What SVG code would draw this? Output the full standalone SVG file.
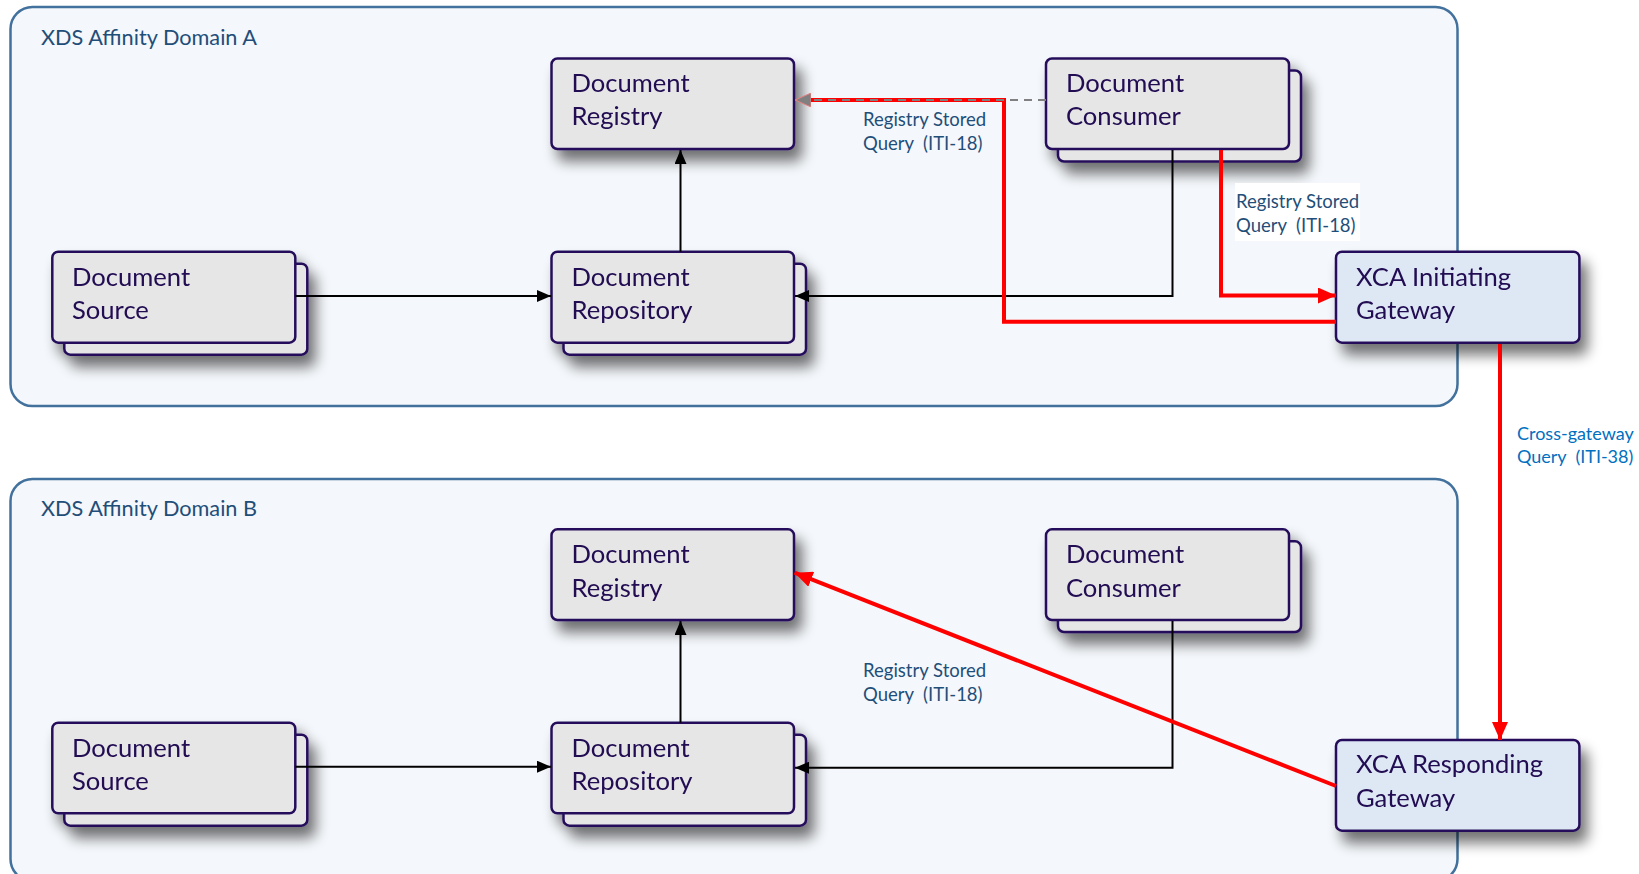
<svg xmlns="http://www.w3.org/2000/svg" width="1639" height="874" viewBox="0 0 1639 874">
<defs>
<filter id="sh" x="-20%" y="-20%" width="150%" height="170%">
<feGaussianBlur in="SourceAlpha" stdDeviation="7"/>
<feOffset dx="7" dy="11" result="b"/>
<feComponentTransfer><feFuncA type="linear" slope="0.55"/></feComponentTransfer>
<feMerge><feMergeNode/><feMergeNode in="SourceGraphic"/></feMerge>
</filter>
<marker id="ab" viewBox="0 0 14 12" refX="14" refY="6" markerWidth="14" markerHeight="12" markerUnits="userSpaceOnUse" orient="auto"><path d="M0,0 L14,6 L0,12 z" fill="#000"/></marker>
<marker id="ar" viewBox="0 0 18 16" refX="18" refY="8" markerWidth="18" markerHeight="16" markerUnits="userSpaceOnUse" orient="auto"><path d="M0,0 L18,8 L0,16 z" fill="#FF0000"/></marker>
<marker id="ag" viewBox="0 0 16 14" refX="16" refY="7" markerWidth="16" markerHeight="14" markerUnits="userSpaceOnUse" orient="auto"><path d="M0,0 L16,7 L0,14 z" fill="#808080" stroke="#E88080" stroke-width="1"/></marker>
</defs>
<style>
.dom{fill:#F4F7FB;stroke:#41719C;stroke-width:2.5}
.dl{font-family:Lato,"Liberation Sans",sans-serif;font-size:21.7px;fill:#1F4E79}
.box{fill:#E6E6E6;stroke:#260F5C;stroke-width:2.5}
.gw{fill:#DEE8F4;stroke:#260F5C;stroke-width:2.5}
.nt{font-family:Lato,"Liberation Sans",sans-serif;font-size:25.6px;fill:#200A52}
.lb{font-family:Lato,"Liberation Sans",sans-serif;font-size:18.5px;fill:#1F4E79}
.lc{font-family:Lato,"Liberation Sans",sans-serif;font-size:18px;fill:#0070C0}
.bk{fill:none;stroke:#000;stroke-width:2}
.rd{fill:none;stroke:#FF0000;stroke-width:4}
.gd{fill:none;stroke:#808080;stroke-width:2;stroke-dasharray:8,6}
</style>
<g id="domainA"><rect class="dom" x="10.5" y="7" width="1447" height="399" rx="22"/><text class="dl" x="41" y="45">XDS Affinity Domain A</text></g>
<g id="domainB"><rect class="dom" x="10.5" y="479" width="1447" height="402" rx="22"/><text class="dl" x="41" y="516">XDS Affinity Domain B</text></g>

<g id="registryA" filter="url(#sh)"><rect class="box" x="551.5" y="58.5" width="242.5" height="90.5" rx="6"/><text class="nt" x="571.5" y="92">Document</text><text class="nt" x="571.5" y="125">Registry</text></g>
<g id="consumerA" filter="url(#sh)"><rect class="box" x="1058" y="70.5" width="243" height="91" rx="6"/><rect class="box" x="1046" y="58.5" width="243" height="90.5" rx="6"/><text class="nt" x="1066" y="92">Document</text><text class="nt" x="1066" y="125">Consumer</text></g>
<g id="sourceA" filter="url(#sh)"><rect class="box" x="64.3" y="263.7" width="243" height="91" rx="6"/><rect class="box" x="52.3" y="251.7" width="243" height="91" rx="6"/><text class="nt" x="72" y="285.7">Document</text><text class="nt" x="72" y="319.3">Source</text></g>
<g id="repositoryA" filter="url(#sh)"><rect class="box" x="563.5" y="263.7" width="242.5" height="91" rx="6"/><rect class="box" x="551.5" y="251.7" width="242.5" height="91" rx="6"/><text class="nt" x="571.5" y="285.7">Document</text><text class="nt" x="571.5" y="319.3">Repository</text></g>
<g id="gatewayA" filter="url(#sh)"><rect class="gw" x="1336" y="251.7" width="243.4" height="91" rx="6"/><text class="nt" x="1356" y="285.7">XCA Initiating</text><text class="nt" x="1356" y="319.3">Gateway</text></g>

<g id="registryB" filter="url(#sh)"><rect class="box" x="551.5" y="529.3" width="242.5" height="90.7" rx="6"/><text class="nt" x="571.5" y="563">Document</text><text class="nt" x="571.5" y="596.5">Registry</text></g>
<g id="consumerB" filter="url(#sh)"><rect class="box" x="1058" y="541.3" width="243" height="90.7" rx="6"/><rect class="box" x="1046" y="529.3" width="243" height="90.7" rx="6"/><text class="nt" x="1066" y="563">Document</text><text class="nt" x="1066" y="596.5">Consumer</text></g>
<g id="sourceB" filter="url(#sh)"><rect class="box" x="64.3" y="734.7" width="243" height="91" rx="6"/><rect class="box" x="52.3" y="722.7" width="243" height="90.6" rx="6"/><text class="nt" x="72" y="756.5">Document</text><text class="nt" x="72" y="790">Source</text></g>
<g id="repositoryB" filter="url(#sh)"><rect class="box" x="563.5" y="734.7" width="242.5" height="91" rx="6"/><rect class="box" x="551.5" y="722.7" width="242.5" height="90.6" rx="6"/><text class="nt" x="571.5" y="756.5">Document</text><text class="nt" x="571.5" y="790">Repository</text></g>
<g id="gatewayB" filter="url(#sh)"><rect class="gw" x="1336" y="740" width="243.4" height="90.7" rx="6"/><text class="nt" x="1356" y="773">XCA Responding</text><text class="nt" x="1356" y="807">Gateway</text></g>

<g id="connectors">
<path class="bk" d="M295.5,296 H551" marker-end="url(#ab)"/>
<path class="bk" d="M680.5,251.7 V150" marker-end="url(#ab)"/>
<path class="bk" d="M1172.5,150 V296 H795" marker-end="url(#ab)"/>
<path class="bk" d="M295.5,766.7 H551" marker-end="url(#ab)"/>
<path class="bk" d="M680.5,722.7 V621" marker-end="url(#ab)"/>
<path class="bk" d="M1172.5,621 V767.7 H795" marker-end="url(#ab)"/>
<path class="rd" d="M1221,150 V295.5 H1336" marker-end="url(#ar)"/>
<path class="rd" d="M1336,321.7 H1004 V100 H808"/>
<path class="gd" d="M1046,100 H795" marker-end="url(#ag)"/>
<path class="rd" d="M1500,344 V740" marker-end="url(#ar)"/>
<path class="rd" d="M1336,786 L794.5,572.7" marker-end="url(#ar)"/>
</g>

<g id="lbl1"><text class="lb" x="863" y="126" xml:space="preserve">Registry Stored</text><text class="lb" x="863" y="150" xml:space="preserve">Query  (ITI-18)</text></g>
<g id="lbl2"><rect x="1235" y="183" width="125" height="58" fill="#FFFFFF"/><text class="lb" x="1236" y="208" xml:space="preserve">Registry Stored</text><text class="lb" x="1236" y="232" xml:space="preserve">Query  (ITI-18)</text></g>
<g id="lbl3"><text class="lc" x="1517" y="440" xml:space="preserve">Cross-gateway</text><text class="lc" x="1517" y="463" xml:space="preserve">Query  (ITI-38)</text></g>
<g id="lbl4"><text class="lb" x="863" y="677" xml:space="preserve">Registry Stored</text><text class="lb" x="863" y="701" xml:space="preserve">Query  (ITI-18)</text></g>
</svg>
